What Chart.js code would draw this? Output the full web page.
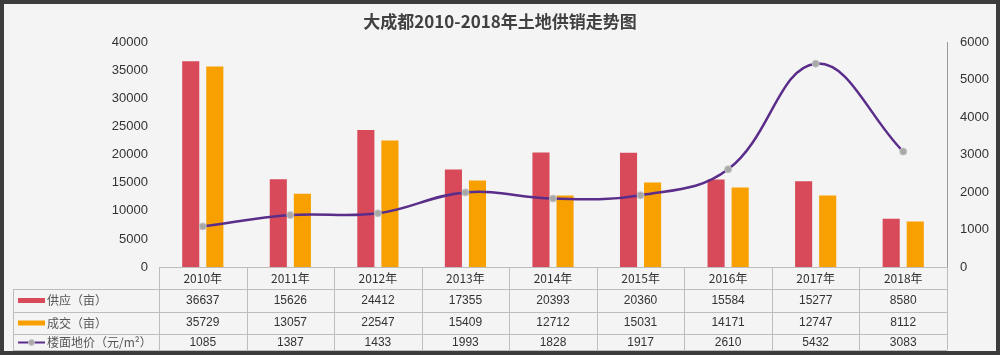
<!DOCTYPE html>
<html><head><meta charset="utf-8">
<script src="https://cdn.jsdelivr.net/npm/chart.js@4"></script>
<style>html,body{margin:0;padding:0;background:#fff;}#wrap{width:1000px;height:355px;position:relative;}</style>
</head><body><div id="wrap"><canvas id="c" width="1000" height="355"></canvas></div>
<script>
const categories = ['2010年','2011年','2012年','2013年','2014年','2015年','2016年','2017年','2018年'];
const supply = [36637,15626,24412,17355,20393,20360,15584,15277,8580];
const deal = [35729,13057,22547,15409,12712,15031,14171,12747,8112];
const price = [1085,1387,1433,1993,1828,1917,2610,5432,3083];
const seriesNames = ['供应（亩）','成交（亩）','楼面地价（元/m²）'];
const leftTicks = [0,5000,10000,15000,20000,25000,30000,35000,40000];
const rightTicks = [0,1000,2000,3000,4000,5000,6000];
const titleText = '大成都2010-2018年土地供销走势图';

const RED = '#d84a5a', ORANGE = '#f7a000', PURPLE = '#5a2d8a';

const bgPlugin = {
  id: 'bg',
  beforeDraw(chart) {
    const ctx = chart.ctx;
    ctx.save();
    ctx.fillStyle = '#f4f4f4';
    ctx.fillRect(0, 0, chart.width, chart.height);
    ctx.restore();
  },
  afterDraw(chart) {
    const ctx = chart.ctx;
    const x = chart.scales.x;
    const area = chart.chartArea;
    const n = categories.length;
    const cw = (area.right - area.left) / n;
    const tl = 13;
    const rows = [area.bottom, 289, 312, 334, 350];
    ctx.save();
    ctx.strokeStyle = '#bdbdbd';
    ctx.lineWidth = 1;
    ctx.beginPath();
    ctx.moveTo(area.left, rows[0] + 0.5); ctx.lineTo(area.right, rows[0] + 0.5);
    for (let i = 1; i < rows.length; i++) {
      ctx.moveTo(tl, rows[i] + 0.5); ctx.lineTo(area.right, rows[i] + 0.5);
    }
    ctx.moveTo(tl + 0.5, rows[1]); ctx.lineTo(tl + 0.5, rows[4]);
    for (let i = 0; i <= n; i++) {
      const px = Math.round(area.left + i * cw) + 0.5;
      ctx.moveTo(px, rows[0]); ctx.lineTo(px, rows[4]);
    }
    ctx.stroke();

    ctx.textAlign = 'center';
    ctx.textBaseline = 'middle';
    ctx.fillStyle = '#333';
    ctx.font = '12px "Noto Sans CJK SC", "Liberation Sans", sans-serif';
    const centers = [278, 300.5, 323, 342.5];
    categories.forEach((c, i) => ctx.fillText(c, x.getPixelForValue(i), centers[0]));
    ctx.font = '12px "Liberation Sans", Arial, sans-serif';
    [supply, deal, price].forEach((arr, r) => {
      arr.forEach((v, i) => ctx.fillText(String(v), x.getPixelForValue(i), centers[r + 1]));
    });

    ctx.fillStyle = RED; ctx.fillRect(18, centers[1] - 2.5, 27, 5);
    ctx.fillStyle = ORANGE; ctx.fillRect(18, centers[2] - 2.5, 27, 5);
    ctx.strokeStyle = PURPLE; ctx.lineWidth = 2;
    ctx.beginPath(); ctx.moveTo(18, centers[3]); ctx.lineTo(45, centers[3]); ctx.stroke();
    ctx.fillStyle = '#a8a8a8'; ctx.strokeStyle = '#c8c8c8'; ctx.lineWidth = 1;
    ctx.beginPath(); ctx.arc(31.5, centers[3], 3, 0, Math.PI * 2); ctx.fill(); ctx.stroke();

    ctx.textAlign = 'left';
    ctx.fillStyle = '#555';
    ctx.font = '12px "Noto Sans CJK SC", sans-serif';
    seriesNames.forEach((s, r) => ctx.fillText(s, 47, centers[r + 1]));

    ctx.strokeStyle = '#3c3c3c';
    ctx.lineWidth = 4;
    ctx.strokeRect(2, 2, chart.width - 4, chart.height - 4);
    ctx.restore();
  }
};

new Chart(document.getElementById('c'), {
  type: 'bar',
  data: {
    labels: categories,
    datasets: [
      { type: 'line', label: seriesNames[2], data: price, yAxisID: 'y1', order: 0,
        borderColor: PURPLE, borderWidth: 2.5, tension: 0.4, fill: false,
        pointRadius: 3.5, pointBackgroundColor: '#a8a8a8', pointBorderColor: '#c4c4c4', pointBorderWidth: 1 },
      { label: seriesNames[0], data: supply, yAxisID: 'y', order: 1, backgroundColor: RED,
        categoryPercentage: 0.55, barPercentage: 0.71 },
      { label: seriesNames[1], data: deal, yAxisID: 'y', order: 1, backgroundColor: ORANGE,
        categoryPercentage: 0.55, barPercentage: 0.71 }
    ]
  },
  options: {
    responsive: false,
    animation: false,
    devicePixelRatio: 1,
    layout: { padding: { left: 0, right: 0, top: 0, bottom: 88 } },
    plugins: {
      legend: { display: false },
      tooltip: { enabled: false },
      title: { display: true, text: titleText, color: '#404040',
        font: { family: '"Noto Sans CJK SC", sans-serif', size: 17, weight: 'bold' },
        padding: { top: 11, bottom: 11 } }
    },
    scales: {
      x: { display: false, offset: true },
      y: { position: 'left', min: 0, max: 40000,
        afterFit(s) { s.width = 159; },
        afterBuildTicks(s) { s.ticks = leftTicks.map(v => ({ value: v })); },
        grid: { display: false, drawTicks: false },
        border: { display: false },
        ticks: { padding: 11, color: '#333', callback: v => String(v),
          font: { family: '"Liberation Sans", Arial, sans-serif', size: 13 } } },
      y1: { position: 'right', min: 0, max: 6000,
        afterFit(s) { s.width = 53; },
        afterBuildTicks(s) { s.ticks = rightTicks.map(v => ({ value: v })); },
        grid: { display: false, drawOnChartArea: false, drawTicks: true, tickLength: 4, color: '#999' },
        border: { display: true, color: '#999' },
        ticks: { padding: 9, color: '#333', callback: v => String(v),
          font: { family: '"Liberation Sans", Arial, sans-serif', size: 13 } } }
    }
  },
  plugins: [bgPlugin]
});
</script></body></html>
